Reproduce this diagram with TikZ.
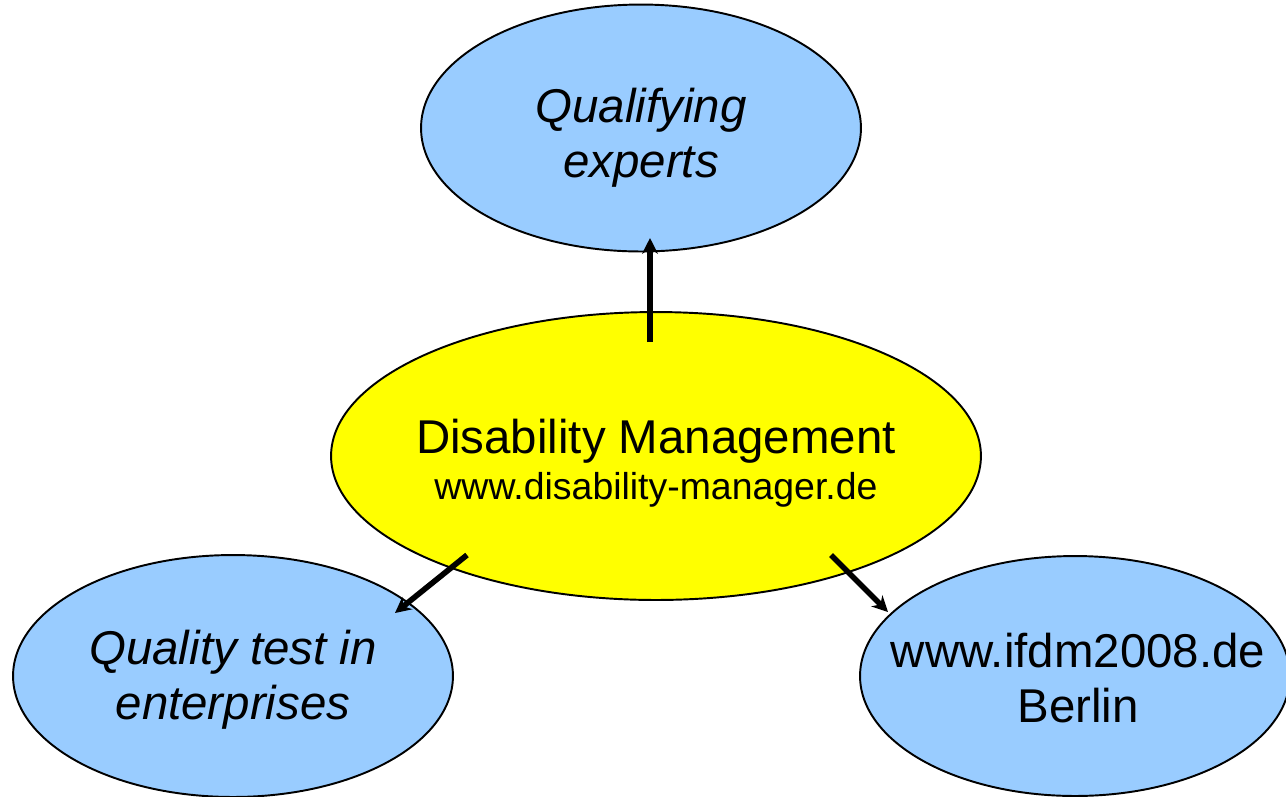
\documentclass[tikz,border=0pt]{standalone}
\usepackage{fontspec}
\setmainfont{Liberation Sans}
\usetikzlibrary{shapes.geometric, arrows.meta, calc}

\definecolor{bluebubble}{HTML}{99CCFF}
\definecolor{hubyellow}{HTML}{FFFF00}

\tikzset{
  bubble/.style={ellipse, draw=black, line width=1.1pt, inner sep=0pt},
  goal/.style={bubble, fill=bluebubble},
  hub/.style={bubble, fill=hubyellow},
  label text/.style={align=center, font=\fontsize{27}{31.5}\selectfont},
  link/.style={-{Stealth[length=9pt, width=9pt]}, line width=3.2pt, black}
}

\begin{document}
\begin{tikzpicture}[x=0.02cm, y=-0.02cm]

  \useasboundingbox (0,0) rectangle (1286,796);

  % ellipses
  \node [goal, minimum width=8.8cm, minimum height=4.94cm] (experts) at (641,128) {};
  \node [hub, minimum width=13cm, minimum height=5.76cm] (dm) at (656,456) {};
  \node [goal, minimum width=8.8cm, minimum height=4.84cm] (quality) at (233,676) {};
  \node [goal, minimum width=8.6cm, minimum height=4.8cm] (ifdm) at (1075,676) {};

  % texts
  \node [label text] (experts-t) at (641,138) {\itshape Qualifying\\\itshape experts};
  \node [label text] (dm-t) at (656,463)
    {Disability Management\\[-5pt]{\fontsize{21.3}{25}\selectfont www.disability-manager.de}};
  \node [label text] (quality-t) at (233,680) {\itshape Quality test in\\\itshape enterprises};
  \node [label text] (ifdm-t) at (1078,678) {www.ifdm2008.de\\Berlin};

  % arrows
  \draw [link] ($(dm)+(-6,-114)$) -- ($(experts)+(9,110)$);
  \draw [link] ($(dm)+(-189,99)$) -- ($(quality)+(162,-63)$);
  \draw [link] ($(dm)+(175,99)$) -- ($(ifdm)+(-187,-64)$);

\end{tikzpicture}
\end{document}
